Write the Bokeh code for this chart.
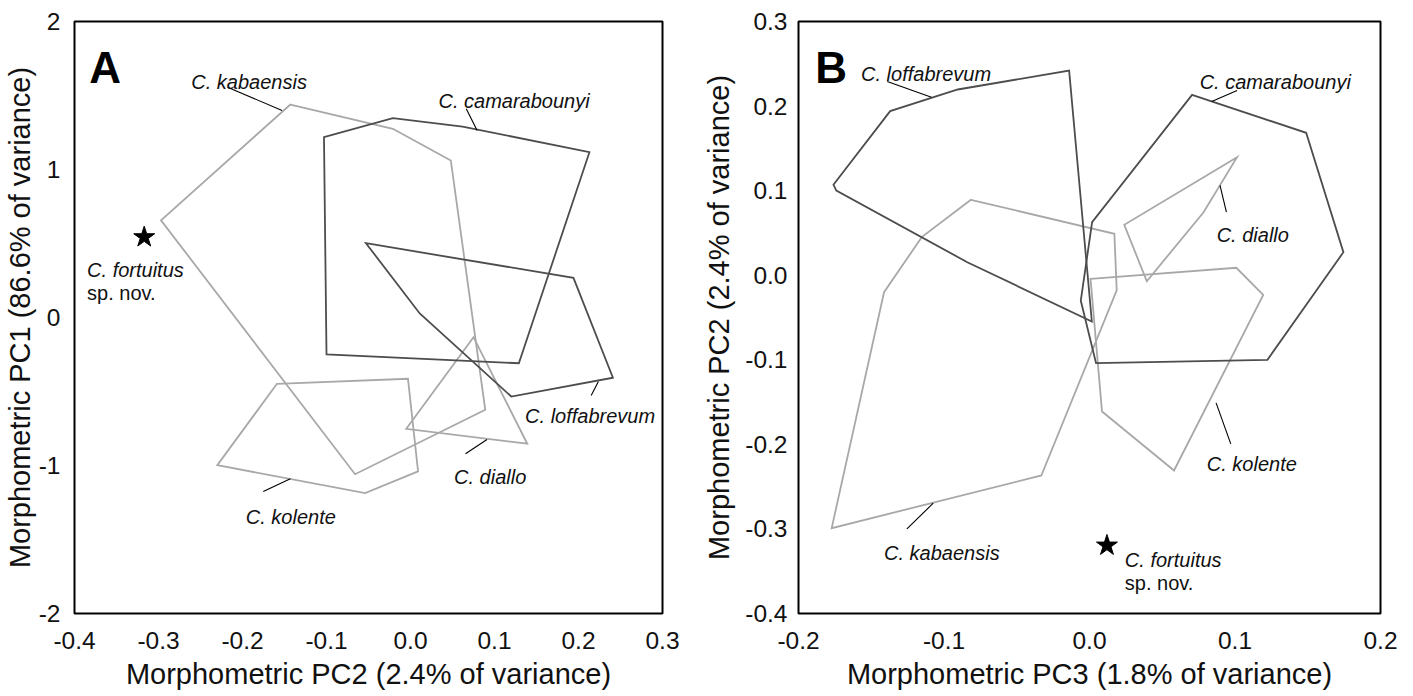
from bokeh.plotting import figure
from bokeh.layouts import row
from bokeh.models import Range1d, FixedTicker, NumeralTickFormatter
from bokeh.core.properties import value
from bokeh.embed import file_html
from bokeh.resources import INLINE

FONT = "Liberation Sans"
DARK = "#4d4d4d"
LIGHT = "#a8a8a8"

# ---------------- Panel A : PC2 (x) vs PC1 (y) ----------------
kabaensis_A_pc2 = [-0.143, -0.021, 0.048, 0.089, -0.066, -0.297]
kabaensis_A_pc1 = [1.439, 1.275, 1.061, -0.624, -1.059, 0.657]
camarabounyi_A_pc2 = [-0.103, -0.021, 0.062, 0.213, 0.129, -0.100]
camarabounyi_A_pc1 = [1.218, 1.347, 1.290, 1.117, -0.309, -0.250]
loffabrevum_A_pc2 = [-0.053, 0.194, 0.241, 0.120, 0.011]
loffabrevum_A_pc1 = [0.502, 0.268, -0.407, -0.534, 0.027]
kolente_A_pc2 = [-0.159, -0.003, 0.009, -0.054, -0.230]
kolente_A_pc1 = [-0.448, -0.414, -1.040, -1.187, -0.998]
diallo_A_pc2 = [0.075, -0.005, 0.139]
diallo_A_pc1 = [-0.133, -0.752, -0.853]
fortuitus_A_pc2 = [-0.317]
fortuitus_A_pc1 = [0.543]

A_xticks = [-0.4, -0.3, -0.2, -0.1, 0.0, 0.1, 0.2, 0.3]
A_yticks = [-2, -1, 0, 1, 2]

# ---------------- Panel B : PC3 (x) vs PC2 (y) ----------------
loffabrevum_B_pc3 = [-0.176, -0.137, -0.0905, -0.014, 0.0016, -0.084, -0.174]
loffabrevum_B_pc2 = [0.107, 0.194, 0.2196, 0.242, -0.0547, 0.0154, 0.100]
camarabounyi_B_pc3 = [0.0705, 0.1489, 0.1745, 0.1223, 0.0045, -0.006, 0.0018]
camarabounyi_B_pc2 = [0.2133, 0.1684, 0.0272, -0.100, -0.104, -0.030, 0.0627]
diallo_B_pc3 = [0.1014, 0.0239, 0.0394, 0.0784]
diallo_B_pc2 = [0.1396, 0.0596, -0.0071, 0.0745]
kolente_B_pc3 = [0.0007, 0.1009, 0.1194, 0.0581, 0.0086]
kolente_B_pc2 = [-0.0043, 0.0088, -0.0232, -0.2309, -0.1612]
kabaensis_B_pc3 = [-0.0815, 0.0171, 0.0187, -0.0331, -0.1772, -0.1412, -0.1153]
kabaensis_B_pc2 = [0.0892, 0.049, -0.018, -0.2368, -0.2991, -0.0201, 0.045]
fortuitus_B_pc3 = [0.012]
fortuitus_B_pc2 = [-0.3196]

B_xticks = [-0.2, -0.1, 0.0, 0.1, 0.2]
B_yticks = [-0.4, -0.3, -0.2, -0.1, 0.0, 0.1, 0.2, 0.3]

# ---------------- annotation texts ----------------
A_labels = ["C. kabaensis", "C. camarabounyi", "C. loffabrevum", "C. diallo", "C. kolente", "C. fortuitus"]
A_label_x = [-0.261, 0.0333, 0.1364, 0.0518, -0.1961, -0.385]
A_label_y = [1.590, 1.466, -0.667, -1.079, -1.349, 0.324]
A_lead_x0 = [-0.2178, 0.0664, 0.2151, 0.0655, -0.1753]
A_lead_y0 = [1.556, 1.410, -0.527, -0.921, -1.176]
A_lead_x1 = [-0.1529, 0.0793, 0.2237, 0.0911, -0.143]
A_lead_y1 = [1.399, 1.264, -0.432, -0.824, -1.090]

B_labels = ["C. loffabrevum", "C. camarabounyi", "C. diallo", "C. kolente", "C. kabaensis", "C. fortuitus"]
B_label_x = [-0.157, 0.0757, 0.0874, 0.0806, -0.1412, 0.0243]
B_label_y = [0.2382, 0.2282, 0.047, -0.2238, -0.3282, -0.3373]
B_lead_x0 = [-0.139, 0.1014, 0.0941, 0.0971, -0.1255]
B_lead_y0 = [0.229, 0.2184, 0.0745, -0.1994, -0.2999]
B_lead_x1 = [-0.1086, 0.084, 0.0897, 0.087, -0.1074]
B_lead_y1 = [0.2105, 0.2054, 0.1061, -0.1509, -0.2696]

SPNOV = "sp. nov."


def base_fig(width, xr, yr, xticks, yticks, xfmt, yfmt, xlabel, ylabel,
             border_left, border_right, ylab_standoff, ytick_standoff):
    p = figure(width=width, height=695, output_backend="svg", toolbar_location=None,
               x_range=Range1d(*xr), y_range=Range1d(*yr),
               min_border_left=border_left, min_border_right=border_right,
               min_border_top=21, min_border_bottom=82)
    p.grid.visible = False
    p.outline_line_color = "black"
    p.outline_line_width = 2
    p.background_fill_color = "white"
    p.border_fill_color = "white"
    for ax in (p.xaxis[0], p.yaxis[0]):
        ax.axis_line_color = None
        ax.major_tick_line_color = None
        ax.minor_tick_line_color = None
        ax.major_label_text_font = FONT
        ax.major_label_text_font_size = "24.5px"
        ax.major_label_text_color = "#111111"
        ax.axis_label_text_font = FONT
        ax.axis_label_text_font_size = "29px"
        ax.axis_label_text_font_style = "normal"
        ax.axis_label_text_color = "#111111"
    p.xaxis.ticker = FixedTicker(ticks=xticks)
    p.yaxis.ticker = FixedTicker(ticks=yticks)
    p.xaxis.formatter = NumeralTickFormatter(format=xfmt)
    p.yaxis.formatter = NumeralTickFormatter(format=yfmt)
    p.xaxis.axis_label = xlabel
    p.yaxis.axis_label = ylabel
    p.xaxis.major_label_standoff = 12
    p.xaxis.axis_label_standoff = 6
    p.yaxis.major_label_standoff = ytick_standoff
    p.yaxis.axis_label_standoff = ylab_standoff
    return p


def outline(p, xs, ys, color):
    p.patch(xs, ys, fill_alpha=0, line_color=color, line_width=1.8, line_join="miter")


def labels(p, texts, lx, ly, x0, y0, x1, y1, panel_letter, letter_x, letter_y):
    p.segment(x0, y0, x1, y1, line_color="black", line_width=1.1)
    p.text(x=lx, y=ly, text=texts, text_font=value(FONT), text_font_size="20px",
           text_font_style="italic", text_baseline="alphabetic", text_align="left",
           text_color="#111111")
    p.text(x=[lx[-1]], y=[ly[-1]], text=[SPNOV], text_font=value(FONT), text_font_size="20px",
           text_baseline="alphabetic", text_align="left", text_color="#111111",
           y_offset=23)
    p.text(x=[letter_x], y=[letter_y], text=[panel_letter], text_font=value(FONT),
           text_font_size="44px", text_font_style="bold", text_baseline="alphabetic",
           text_align="left", text_color="black")


# ---------------- Figure A ----------------
pA = base_fig(700, (-0.4, 0.3), (-2, 2), A_xticks, A_yticks, "0.0", "0",
              "Morphometric PC2 (2.4% of variance)", "Morphometric PC1 (86.6% of variance)",
              69, 38, 0, 8)
outline(pA, kabaensis_A_pc2, kabaensis_A_pc1, LIGHT)
outline(pA, kolente_A_pc2, kolente_A_pc1, LIGHT)
outline(pA, diallo_A_pc2, diallo_A_pc1, LIGHT)
outline(pA, camarabounyi_A_pc2, camarabounyi_A_pc1, DARK)
outline(pA, loffabrevum_A_pc2, loffabrevum_A_pc1, DARK)
pA.scatter(fortuitus_A_pc2, fortuitus_A_pc1, marker="star", size=22, color="black")
labels(pA, A_labels, A_label_x, A_label_y, A_lead_x0, A_lead_y0, A_lead_x1, A_lead_y1,
       "A", -0.3823, 1.691)

# ---------------- Figure B ----------------
pB = base_fig(712, (-0.2, 0.2), (-0.4, 0.3), B_xticks, B_yticks, "0.0", "0.0",
              "Morphometric PC3 (1.8% of variance)", "Morphometric PC2 (2.4% of variance)",
              88, 32, 7, 5)
outline(pB, kabaensis_B_pc3, kabaensis_B_pc2, LIGHT)
outline(pB, kolente_B_pc3, kolente_B_pc2, LIGHT)
outline(pB, diallo_B_pc3, diallo_B_pc2, LIGHT)
outline(pB, camarabounyi_B_pc3, camarabounyi_B_pc2, DARK)
outline(pB, loffabrevum_B_pc3, loffabrevum_B_pc2, DARK)
pB.scatter(fortuitus_B_pc3, fortuitus_B_pc2, marker="star", size=22, color="black")
labels(pB, B_labels, B_label_x, B_label_y, B_lead_x0, B_lead_y0, B_lead_x1, B_lead_y1,
       "B", -0.1885, 0.246)

layout = row(pA, pB)
open("out.html", "w").write(file_html(layout, INLINE))
